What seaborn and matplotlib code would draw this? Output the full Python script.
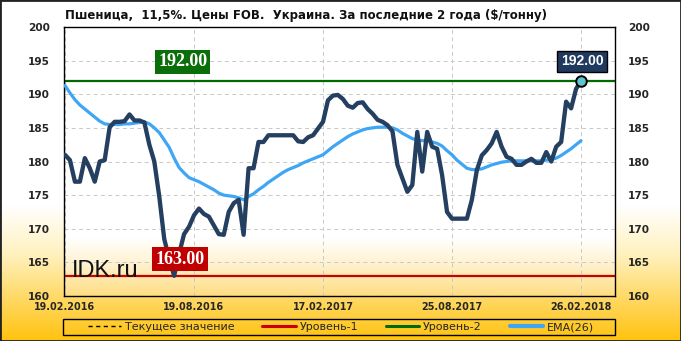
import numpy as np
import pandas as pd
import matplotlib
matplotlib.use("Agg")
import matplotlib.pyplot as plt
import seaborn as sns
from matplotlib.colors import to_rgb
from matplotlib.lines import Line2D
from matplotlib.patches import Rectangle

# ---------------- data ----------------
title = "Пшеница,  11,5%. Цены FOB.  Украина. За последние 2 года ($/тонну)"
date_labels = ["19.02.2016", "19.08.2016", "17.02.2017", "25.08.2017", "26.02.2018"]
date_ticks = [0, 26, 52, 78, 104]
y_ticks = [160, 165, 170, 175, 180, 185, 190, 195, 200]

price = [181, 180.2, 177, 177, 180.5, 179, 177, 180, 180.2, 185.1,
         185.9, 185.9, 186, 187, 186.1, 186.1, 185.8, 182.5, 180, 174.8,
         168.5, 165.5, 163, 166.3, 169.2, 170.3, 172, 173, 172.2, 171.8,
         170.5, 169.2, 169.1, 172.5, 173.8, 174.3, 169.1, 179, 179, 182.9,
         182.9, 183.9, 183.9, 183.9, 183.9, 183.9, 183.9, 183.0, 182.9, 183.6,
         183.9, 184.9, 185.9, 189.1, 189.8, 189.9, 189.3, 188.3, 188, 188.7,
         188.8, 187.8, 187.1, 186.2, 185.9, 185.4, 184.5, 179.5, 177.5, 175.5,
         176.5, 184.4, 178.5, 184.4, 182.2, 181.9, 178, 172.5, 171.5, 171.5,
         171.5, 171.5, 174.3, 178.7, 180.9, 181.7, 182.7, 184.4, 182.2, 180.7,
         180.4, 179.5, 179.5, 180, 180.4, 179.8, 179.8, 181.4, 180, 182.2,
         182.9, 188.9, 187.9, 190.8, 192]

ema = [191.3, 190.2, 189.2, 188.4, 187.8, 187.2, 186.6, 186.0, 185.6, 185.5,
       185.5, 185.5, 185.6, 185.6, 185.7, 185.8, 185.9, 185.6, 185.0, 184.3,
       183.2, 182.1, 180.5, 179.1, 178.3, 177.6, 177.3, 177.0, 176.6, 176.2,
       175.8, 175.3, 175.0, 174.9, 174.8, 174.6, 174.3, 174.8, 175.2, 175.8,
       176.3, 176.9, 177.4, 177.9, 178.4, 178.8, 179.1, 179.4, 179.8, 180.1,
       180.4, 180.7, 181.0, 181.6, 182.2, 182.7, 183.2, 183.7, 184.1, 184.4,
       184.7, 184.9, 185.0, 185.1, 185.1, 185.1, 185.0, 184.7, 184.2, 183.8,
       183.4, 183.2, 183.1, 183.1, 182.9, 182.7, 182.3, 181.6, 181.0, 180.2,
       179.6, 179.0, 178.8, 178.8, 178.9, 179.2, 179.5, 179.7, 179.9, 180.0,
       180.1, 180.1, 180.1, 180.1, 180.1, 180.1, 180.1, 180.2, 180.3, 180.5,
       180.9, 181.4, 181.9, 182.5, 183.1]

level1 = 163.0
level2 = 192.0
legend_labels = ["Текущее значение", "Уровень-1", "Уровень-2", "EMA(26)"]
watermark = "IDK.ru"

# ---------------- style ----------------
sns.set_style("white")
plt.rcParams['font.family'] = ['DejaVu Sans']

W, H = 681, 341
fig = plt.figure(figsize=(W / 100, H / 100), dpi=100)

# plot area in pixels
px_l, px_r, px_t, px_b = 64, 615, 27, 296
ax_rect = [px_l / W, 1 - px_b / H, (px_r - px_l) / W, (px_b - px_t) / H]


def gradient(stops, n):
    pos = np.array([s[0] for s in stops], dtype=float)
    cols = np.array([to_rgb(s[1]) for s in stops])
    t = np.linspace(0, 1, n)
    arr = np.stack([np.interp(t, pos, cols[:, k]) for k in range(3)], axis=-1)
    return arr[:, None, :]


bg = fig.add_axes([0, 0, 1, 1], zorder=-10)
fig_grad = gradient([(0, "#FFFFFF"), (205 / H, "#FFFFFF"), (255 / H, "#FFF1BE"),
                     (1, "#FFC20E")], H)
bg.imshow(fig_grad, aspect='auto', extent=[0, 1, 0, 1], interpolation='bilinear')
ph = px_b - px_t
plot_grad = gradient([(0, "#FFFFFF"), ((238 - px_t) / ph, "#FFFFFF"),
                      ((262 - px_t) / ph, "#FFF3D4"), (1, "#FEDD82")], ph)
bg.imshow(plot_grad, aspect='auto',
          extent=[ax_rect[0], ax_rect[0] + ax_rect[2], ax_rect[1], ax_rect[1] + ax_rect[3]],
          interpolation='bilinear')
bg.set_xlim(0, 1)
bg.set_ylim(0, 1)
bg.axis('off')

ax = fig.add_axes(ax_rect)
ax.patch.set_alpha(0)

df = pd.DataFrame({'idx': np.arange(len(price)), 'price': price, 'ema': ema})

ax.axhline(level2, color='#006A00', lw=1.6, zorder=2)
ax.axhline(level1, color='#CC0000', lw=1.6, zorder=2)
sns.lineplot(data=df, x='idx', y='ema', ax=ax, color='#3EA6F5', lw=2.3, zorder=3)
sns.lineplot(data=df, x='idx', y='price', ax=ax, color='#243F60', lw=3.1, zorder=4)
ax.scatter([df['idx'].iloc[-1]], [df['price'].iloc[-1]], s=58, color='#5EC4CD',
           edgecolor='black', linewidth=1.4, zorder=6)

ax.set_xlim(-0.2, 110.85)
ax.set_ylim(160, 200)
ax.set_yticks(y_ticks)
ax.set_xticks(date_ticks)
ax.set_xticklabels(date_labels, fontsize=6.9, fontweight='bold')
ax.set_yticklabels([str(v) for v in y_ticks], fontsize=7.6, fontweight='bold')
ax.tick_params(axis='both', length=0)
ax.tick_params(axis='y', pad=10)
ax.tick_params(axis='x', pad=4.5)
ax.set_xlabel('')
ax.set_ylabel('')
ax.grid(True, color='#C8C8C8', linestyle=(0, (4, 3.5)), lw=0.7)
ax.set_axisbelow(True)
for s in ax.spines.values():
    s.set_visible(True)
    s.set_color('black')
    s.set_linewidth(1.0)

ax2 = ax.twinx()
ax2.set_ylim(160, 200)
ax2.set_yticks(y_ticks)
ax2.set_yticklabels([str(v) for v in y_ticks], fontsize=7.6, fontweight='bold')
ax2.tick_params(axis='y', length=0, pad=9.5)
for s in ax2.spines.values():
    s.set_visible(False)

# value boxes
ax.text(23.7, 194.8, f"{level2:.2f}", color='white', fontsize=13, fontweight='bold',
        family='Liberation Serif', ha='center', va='center', zorder=7,
        bbox=dict(boxstyle='square,pad=0.18', facecolor='#0A6E0A', edgecolor='none'))
ax.text(23.2, 165.5, f"{level1:.2f}", color='white', fontsize=13, fontweight='bold',
        family='Liberation Serif', ha='center', va='center', zorder=7,
        bbox=dict(boxstyle='square,pad=0.18', facecolor='#C00000', edgecolor='none'))
ax.text(df['idx'].iloc[-1] + 0.2, 194.9, f"{price[-1]:.2f}", color='white', fontsize=10,
        fontweight='bold', family='Liberation Sans', ha='center', va='center', zorder=7,
        bbox=dict(boxstyle='square,pad=0.25', facecolor='#1F3A5E', edgecolor='black', lw=1))

ax.text(0.014, 0.07, watermark, transform=ax.transAxes, fontsize=17,
        family='Liberation Sans', color='#111111', ha='left', va='baseline', zorder=5)

# title
fig.text(65 / W, 1 - 16 / H, title, fontsize=8.5, fontweight='bold', ha='left',
         va='center', color='#111111')

# legend
handles = [Line2D([], [], color='black', lw=1.0, linestyle=(0, (3, 2.5))),
           Line2D([], [], color='#CC0000', lw=2.2),
           Line2D([], [], color='#006A00', lw=2.2),
           Line2D([], [], color='#3EA6F5', lw=3.0)]
leg = fig.legend(handles, legend_labels, loc='center', bbox_to_anchor=(341 / W, 1 - 327 / H),
                 ncol=4, frameon=False, fontsize=8, handlelength=3.0, handletextpad=0.35,
                 columnspacing=2.5, borderpad=0)
fig.patches.append(Rectangle((63 / W, 1 - 335 / H), 552 / W, 16 / H, transform=fig.transFigure,
                             fill=False, edgecolor='black', lw=1.0))
fig.patches.append(Rectangle((0, 0), 1, 1, transform=fig.transFigure, fill=False,
                             edgecolor='#222222', lw=2.0))

fig.savefig("out.png", dpi=100)
